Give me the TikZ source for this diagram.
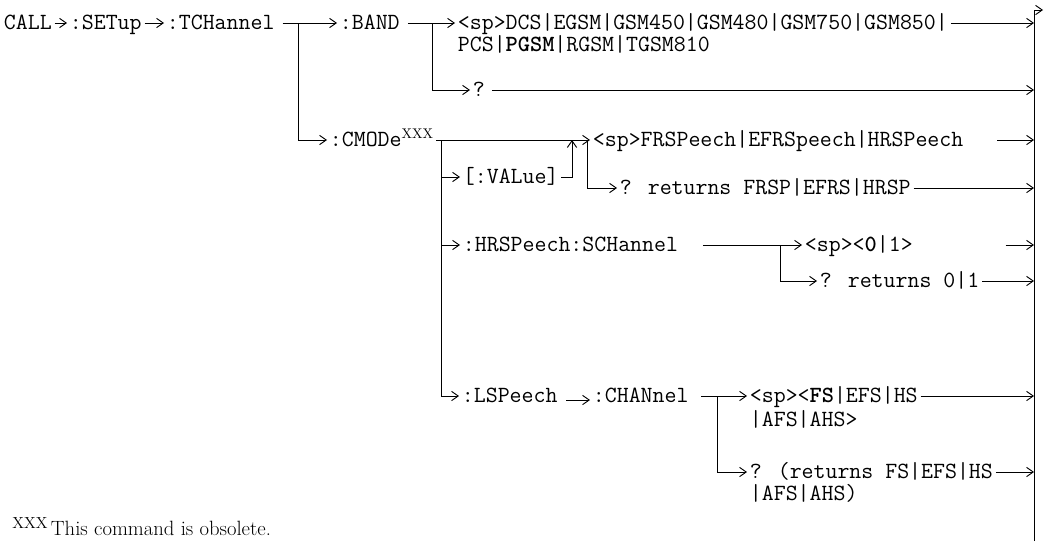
\documentclass[tikz,border=0pt]{standalone}
\usepackage{fontspec}
\usepackage{tikz}
\usetikzlibrary{arrows.meta, calc}

\begin{document}
\begin{tikzpicture}[
  x=0.75pt, y=-0.75pt,
  cmd/.style={anchor=west, inner xsep=2pt, inner ysep=0pt, text height=11pt,
    text depth=1pt, font=\ttfamily\fontsize{17.4}{20}\selectfont},
  arr/.style={-{Straight Barb[length=5pt,width=7pt]}, line width=0.7pt},
  ln/.style={line width=0.7pt}
]
\useasboundingbox (0,0) rectangle (1044,543);

% root path
\node[cmd] (call) at (1,23) {CALL};
\node[cmd] (setup) at (67,23) {:SETup};
\node[cmd] (tch) at (164,23) {:TCHannel};

% band subtree
\node[cmd] (band) at (337,23) {:BAND};
\node[cmd] (bandval) at (455,23) {<sp>DCS|EGSM|GSM450|GSM480|GSM750|GSM850|};
\node[cmd] (bandval2) at (455,45) {PCS|\textbf{PGSM}|RGSM|TGSM810};
\node[cmd] (bandq) at (470,90) {?};

% cmode subtree
\node[cmd] (cmode) at (327,140) {:CMODe\raisebox{6pt}{\rmfamily\fontsize{10.5}{11}\selectfont XXX}};
\node[cmd] (frsp) at (590,140) {<sp>FRSPeech|EFRSpeech|HRSPeech};
\node[cmd] (value) at (460,177) {[:VALue]};
\node[cmd] (frspq) at (617,188) {? returns FRSP|EFRS|HRSP};
\node[cmd] (hrs) at (460,245) {:HRSPeech:SCHannel};
\node[cmd] (zero) at (802,245) {<sp><\textbf{0}|1>};
\node[cmd] (zeroq) at (817,281) {? returns 0|1};
\node[cmd] (lsp) at (459,396) {:LSPeech};
\node[cmd] (chan) at (590,396) {:CHANnel};
\node[cmd] (fs) at (747,396) {<sp><\textbf{FS}|EFS|HS};
\node[cmd] (fs2) at (747,420) {|AFS|AHS>};
\node[cmd] (fsq) at (747,472) {? (returns FS|EFS|HS};
\node[cmd] (fsq2) at (747,494) {|AFS|AHS)};

% footnote
\node[anchor=base west, inner sep=0pt, font=\fontsize{15.5}{18}\selectfont] (note) at (12,535)
  {\raisebox{5pt}{\fontsize{12}{12}\selectfont XXX}\,This command is obsolete.};

% junctions
\coordinate (jt) at (298,23);
\coordinate (jb) at (432,23);
\coordinate (jc) at (441,140);
\coordinate (jv) at (572,140);
\coordinate (jq) at (587,140);
\coordinate (jh) at (780,245);
\coordinate (jl) at (717,396);
\coordinate (rtop) at (1034,10);
\coordinate (rbot) at (1034,541);
\coordinate (rout) at (1043,10);

\draw[arr] (call) -- (setup);
\draw[arr] (setup) -- (tch);
\draw[arr, shorten <=4pt] (tch) -- (band);
\draw[arr] (jt) |- (cmode);

\draw[arr, shorten <=4pt] (band) -- (bandval);
\draw[arr] (jb) |- (bandq);
\draw[arr] (bandval) -- (bandval -| rtop);
\draw[arr, shorten <=3pt] (bandq) -- (bandq -| rtop);

\draw[arr] (cmode) -- (frsp);
\draw[arr] (jc) |- (value);
\draw[arr] (jc) |- (hrs);
\draw[arr] (jc) |- (lsp);
\draw[arr] (value) -| (jv);
\draw[arr] (jq) |- (frspq);
\draw[arr] (frsp.east) ++(31,0) -- (frsp -| rtop);
\draw[arr] (frspq) -- (frspq -| rtop);

\draw[arr] (hrs.east) ++(22,0) -- (zero);
\draw[arr] (jh) |- (zeroq);
\draw[arr] (zero.east) ++(90,0) -- (zero -| rtop);
\draw[arr] (zeroq) -- (zeroq -| rtop);

\draw[arr] ([yshift=-3pt]lsp.east) ++(6,0) -- ([yshift=-3pt]chan.west);
\draw[arr] (chan.east) ++(10,0) -- (fs);
\draw[arr] (jl) |- (fsq);
\draw[arr] (fs) -- (fs -| rtop);
\draw[arr] (fsq) -- (fsq -| rtop);

% right rail
\draw[arr] (rbot) -- (rtop) -- (rout);
\end{tikzpicture}
\end{document}
